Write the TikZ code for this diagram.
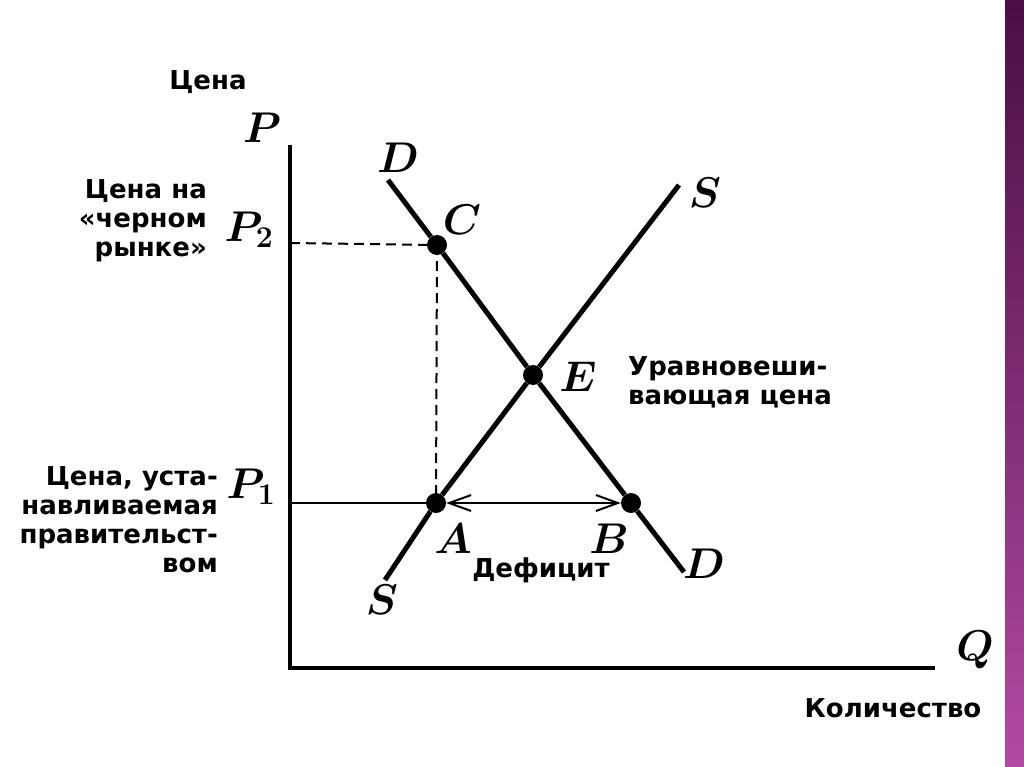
\RequirePackage{fix-cm}
\documentclass[tikz,border=0pt]{standalone}
\usepackage{fontspec}
\newfontfamily\lblfont{DejaVu Sans}
\usepackage{tikz}
\usetikzlibrary{positioning, arrows.meta}
\definecolor{stripetop}{HTML}{4A0E45}
\definecolor{stripebot}{HTML}{B24AA2}
\tikzstyle{curve} = [line width=5pt]
\tikzstyle{axis} = [line width=4pt]
\tikzstyle{guide} = [line width=2pt, dash pattern=on 10pt off 6pt]
\tikzstyle{dot} = [circle, fill, inner sep=0pt, minimum size=20pt]
\tikzstyle{lbl} = [font=\lblfont\bfseries\fontsize{26}{29}\selectfont, inner sep=0pt]
\tikzstyle{letter} = [font=\fontsize{43}{48}\selectfont\boldmath, inner sep=0pt]
\tikzstyle{arrow} = [line width=2pt, {Straight Barb[length=22pt,width=16pt]}-{Straight Barb[length=22pt,width=16pt]}]

\begin{document}
\begin{tikzpicture}[x=1pt, y=-1pt]
    \useasboundingbox (0,0) rectangle (1024,767);
    \fill[white] (0,0) rectangle (1024,767);
    \shade[top color=stripetop, bottom color=stripebot] (1005,0) rectangle (1024,767);

    % Axes
    \coordinate (O) at (290,668);
    \coordinate (ptop) at (290,145);
    \coordinate (qend) at (935,668);
    \draw[axis] (ptop) -- (O) -- (qend);
    \node[letter] (P) at (262,128) {$P$};
    \node[lbl] (price) at (208,82) {Цена};
    \node[letter] (Q) at (975,650) {$Q$};
    \node[lbl] (qty) at (893,708) {Количество};

    % Points
    \node[dot] (C) at (437,245) {};
    \node[dot] (E) at (533,375) {};
    \node[dot] (A) at (436,503) {};
    \node[dot] (B) at (631,503) {};

    % Demand and supply
    \coordinate (dtop) at (388,180);
    \coordinate (dbot) at (684,572);
    \coordinate (stop) at (679,185);
    \coordinate (sbot) at (385,580);
    \draw[curve] (dtop) -- (C) -- (E) -- (B) -- (dbot);
    \draw[curve] (sbot) -- (A) -- (E) -- (stop);

    % Price levels
    \coordinate (p2) at (290,243);
    \coordinate (p1) at (290,503);
    \draw[guide] (p2) -- (C.center);
    \draw[guide] (C.center) -- (A.center);
    \draw[line width=2.5pt] (p1) -- (A.center);
    \draw[arrow] (A) -- (B);

    % Letters
    \node[letter] (Dtop) at (398,158) {$D$};
    \node[letter] (Stop) at (705,193) {$S$};
    \node[letter] (Clbl) at (462,220) {$C$};
    \node[letter] (Elbl) at (578,377) {$E$};
    \node[letter] (Albl) at (453,539) {$A$};
    \node[letter] (Blbl) at (609,539) {$B$};
    \node[letter] (Dbot) at (704,564) {$D$};
    \node[letter] (Sbot) at (382,600) {$S$};
    \node[letter] (P2) at (249,230) {$P_2$};
    \node[letter] (P1) at (251,487) {$P_1$};

    % Texts
    \node[lbl, align=right, anchor=east] (black) at (207,221) {Цена на\\«черном\\рынке»};
    \node[lbl, align=right, anchor=east] (govt) at (218,520) {Цена, уста-\\навливаемая\\правительст-\\вом};
    \node[lbl, align=left, anchor=west] (equil) at (628,382) {Уравновеши-\\вающая цена};
    \node[lbl] (deficit) at (541,570) {Дефицит};
\end{tikzpicture}
\end{document}
